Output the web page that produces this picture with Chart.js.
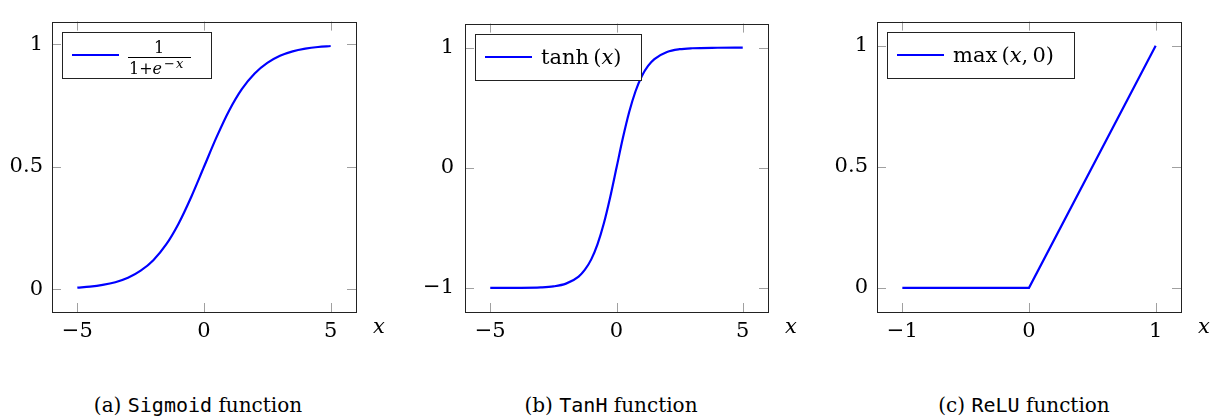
<!DOCTYPE html>
<html>
<head>
<meta charset="utf-8">
<script src="https://cdn.jsdelivr.net/npm/chart.js@4.4.0/dist/chart.umd.min.js"></script>
<style>
  body { margin: 0; background: #fff; width: 1220px; height: 420px; position: relative; overflow: hidden; }
  .panel { position: absolute; top: 0; }
  .caption { position: absolute; top: 392px; font-family: "DejaVu Serif", serif; font-size: 20px; line-height: 26px;
             transform: translateX(-50%); white-space: nowrap; color: #000; }
  .caption code { font-family: "DejaVu Sans Mono", monospace; font-size: 20px; }
</style>
</head>
<body>
<div class="panel" style="left:0px"><canvas id="sigmoidChart" width="400" height="380"></canvas></div>
<div class="panel" style="left:400px"><canvas id="tanhChart" width="410" height="380"></canvas></div>
<div class="panel" style="left:810px"><canvas id="reluChart" width="410" height="380"></canvas></div>

<div class="caption" style="left:198px">(a) <code>Sigmoid</code> function</div>
<div class="caption" style="left:611px">(b) <code>TanH</code> function</div>
<div class="caption" style="left:1024px">(c) <code>ReLU</code> function</div>

<script>
// Values
const sigmoidX = [-5, -4.5, -4, -3.5, -3, -2.5, -2, -1.5, -1, -0.5, 0, 0.5, 1, 1.5, 2, 2.5, 3, 3.5, 4, 4.5, 5];
const sigmoidY = [0.007, 0.011, 0.018, 0.029, 0.047, 0.076, 0.119, 0.182, 0.269, 0.378, 0.5,
                  0.622, 0.731, 0.818, 0.881, 0.924, 0.953, 0.971, 0.982, 0.989, 0.993];

const tanhX = [-5, -4, -3, -2.5, -2, -1.5, -1.25, -1, -0.75, -0.5, -0.25, 0,
               0.25, 0.5, 0.75, 1, 1.25, 1.5, 2, 2.5, 3, 4, 5];
const tanhY = [-1.0, -0.999, -0.995, -0.987, -0.964, -0.905, -0.848, -0.762, -0.635, -0.462, -0.245, 0,
               0.245, 0.462, 0.635, 0.762, 0.848, 0.905, 0.964, 0.987, 0.995, 0.999, 1.0];

const reluX = [-1, 0, 1];
const reluY = [0, 0, 1];

// Tick values
const sigmoidXTicks = [-5, 0, 5];
const sigmoidYTicks = [0, 0.5, 1];
const tanhXTicks = [-5, 0, 5];
const tanhYTicks = [-1, 0, 1];
const reluXTicks = [-1, 0, 1];
const reluYTicks = [0, 0.5, 1];

// Legend labels, split in pieces so the math parts can be set in italic
const tanhLegend = [{ t: 'tanh\u2009(' }, { t: 'x', it: true }, { t: ')' }];
const reluLegend = [{ t: 'max\u2009(' }, { t: 'x', it: true }, { t: ',\u20090)' }];
const sigmoidLegend = 'fraction'; // 1 / (1 + e^-x), drawn as a stacked fraction

const SERIF = '"DejaVu Serif", serif';
const TICK_FONT = 21;
const LEGEND_FONT = 21;

function fmtTick(v) {
    return String(v).replace('-', '\u2212');
}

// Frame, inward tick marks, axis letter and boxed legend, pgfplots style
const pgfLook = {
    id: 'pgfLook',
    beforeDatasetsDraw(chart) {
        const ctx = chart.ctx;
        const a = chart.chartArea;
        const len = 9;
        ctx.save();
        ctx.strokeStyle = '#a0a0a0';
        ctx.lineWidth = 1;
        ctx.beginPath();
        chart.scales.x.ticks.forEach(t => {
            const px = Math.round(chart.scales.x.getPixelForValue(t.value)) + 0.5;
            ctx.moveTo(px, a.bottom); ctx.lineTo(px, a.bottom - len);
            ctx.moveTo(px, a.top); ctx.lineTo(px, a.top + len);
        });
        chart.scales.y.ticks.forEach(t => {
            const py = Math.round(chart.scales.y.getPixelForValue(t.value)) + 0.5;
            ctx.moveTo(a.left, py); ctx.lineTo(a.left + len, py);
            ctx.moveTo(a.right, py); ctx.lineTo(a.right - len, py);
        });
        ctx.stroke();
        ctx.restore();
    },
    afterDraw(chart) {
        const ctx = chart.ctx;
        const a = chart.chartArea;
        ctx.save();
        // frame
        ctx.strokeStyle = '#222';
        ctx.lineWidth = 1;
        ctx.strokeRect(Math.round(a.left) + 0.5, Math.round(a.top) + 0.5,
                       Math.round(a.right - a.left), Math.round(a.bottom - a.top));

        // x axis letter
        ctx.fillStyle = '#000';
        ctx.font = 'italic ' + TICK_FONT + 'px ' + SERIF;
        ctx.textAlign = 'center';
        ctx.textBaseline = 'alphabetic';
        ctx.fillText('x', a.right + 23, a.bottom + 21);

        // legend
        const ds = chart.data.datasets[0];
        const label = ds.legendParts;
        const x0 = Math.round(a.left) + 10;
        const y0 = Math.round(a.top) + 10;
        const h = 46;
        let textW = 0;
        if (label === 'fraction') {
            textW = 63;
        } else {
            label.forEach(p => {
                ctx.font = (p.it ? 'italic ' : '') + LEGEND_FONT + 'px ' + SERIF;
                textW += ctx.measureText(p.t).width;
            });
        }
        const w = 10 + 47 + 9 + Math.round(textW) + 20;
        ctx.fillStyle = '#fff';
        ctx.fillRect(x0, y0, w, h);
        ctx.strokeStyle = '#222';
        ctx.strokeRect(x0 + 0.5, y0 + 0.5, w, h);

        ctx.strokeStyle = ds.borderColor;
        ctx.lineWidth = ds.borderWidth;
        ctx.beginPath();
        ctx.moveTo(x0 + 10, y0 + 23);
        ctx.lineTo(x0 + 57, y0 + 23);
        ctx.stroke();

        ctx.fillStyle = '#000';
        ctx.textAlign = 'left';
        let tx = x0 + 66;
        if (label === 'fraction') {
            // numerator
            ctx.font = '16px ' + SERIF;
            ctx.textAlign = 'center';
            ctx.fillText('1', tx + 31, y0 + 21);
            // bar
            ctx.fillRect(tx, y0 + 25, 63, 1);
            // denominator
            ctx.textAlign = 'left';
            let dx = tx + 1;
            ctx.fillText('1', dx, y0 + 42); dx += ctx.measureText('1').width;
            ctx.fillText('+', dx, y0 + 42); dx += ctx.measureText('+').width;
            ctx.font = 'italic 16px ' + SERIF;
            ctx.fillText('e', dx, y0 + 42); dx += ctx.measureText('e').width + 2;
            ctx.font = '13px ' + SERIF;
            ctx.fillText('\u2212', dx, y0 + 36); dx += ctx.measureText('\u2212').width + 1;
            ctx.font = 'italic 13px ' + SERIF;
            ctx.fillText('x', dx, y0 + 36);
        } else {
            label.forEach(p => {
                ctx.font = (p.it ? 'italic ' : '') + LEGEND_FONT + 'px ' + SERIF;
                ctx.fillText(p.t, tx, y0 + 30);
                tx += ctx.measureText(p.t).width;
            });
        }
        ctx.restore();
    }
};

function makeChart(id, xs, ys, xTicks, yTicks, xMin, xMax, yMin, yMax, legendParts, boxLeft, padRight, yPad, smooth) {
    const points = xs.map((x, i) => ({ x: x, y: ys[i] }));
    return new Chart(document.getElementById(id), {
        type: 'scatter',
        data: {
            datasets: [{
                data: points,
                showLine: true,
                borderColor: '#0000ff',
                borderWidth: 2.2,
                pointRadius: 0,
                fill: false,
                cubicInterpolationMode: smooth ? 'monotone' : 'default',
                tension: 0,
                legendParts: legendParts
            }]
        },
        options: {
            responsive: false,
            animation: false,
            layout: { padding: { top: 9, right: padRight, bottom: 0, left: 0 } },
            plugins: {
                legend: { display: false },
                tooltip: { enabled: false }
            },
            scales: {
                x: {
                    type: 'linear',
                    min: xMin,
                    max: xMax,
                    grid: { display: false, drawTicks: false },
                    border: { display: false },
                    afterBuildTicks: s => { s.ticks = xTicks.map(v => ({ value: v })); },
                    afterFit: s => { s.height = 68; },
                    ticks: {
                        callback: fmtTick,
                        color: '#000',
                        font: { family: SERIF, size: TICK_FONT },
                        padding: 7,
                        maxRotation: 0,
                        autoSkip: false
                    }
                },
                y: {
                    type: 'linear',
                    min: yMin,
                    max: yMax,
                    grid: { display: false, drawTicks: false },
                    border: { display: false },
                    afterBuildTicks: s => { s.ticks = yTicks.map(v => ({ value: v })); },
                    afterFit: s => { s.width = boxLeft; },
                    ticks: {
                        callback: fmtTick,
                        color: '#000',
                        font: { family: SERIF, size: TICK_FONT },
                        padding: yPad,
                        autoSkip: false
                    }
                }
            }
        },
        plugins: [pgfLook]
    });
}

makeChart('sigmoidChart', sigmoidX, sigmoidY, sigmoidXTicks, sigmoidYTicks, -6, 6, -0.0926, 1.0926,
          sigmoidLegend, 52, 44, 9, true);
makeChart('tanhChart', tanhX, tanhY, tanhXTicks, tanhYTicks, -6, 6, -1.2, 1.2,
          tanhLegend, 65, 42, 11, true);
makeChart('reluChart', reluX, reluY, reluXTicks, reluYTicks, -1.2, 1.2, -0.1, 1.1,
          reluLegend, 67, 39, 9, false);
</script>
</body>
</html>
